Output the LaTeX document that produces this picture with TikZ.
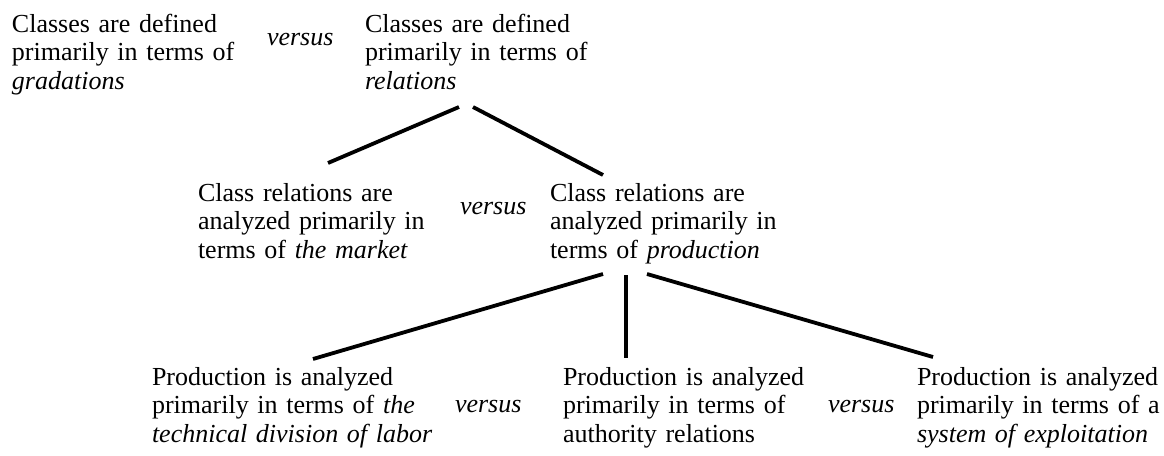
\documentclass[tikz,border=0pt]{standalone}
\usepackage{fontspec}
\setmainfont{Liberation Serif}
\begin{document}
\begin{tikzpicture}[x=1pt,y=-1pt,
  txt/.style={anchor=base west,inner sep=0pt,outer sep=0pt,align=left,text width=320pt,
    font=\fontsize{26}{28.5}\selectfont},
  vs/.style={anchor=base west,inner sep=0pt,outer sep=0pt,font=\fontsize{26}{28.5}\selectfont\itshape},
  link/.style={line width=3.8pt}]
\useasboundingbox (0,0) rectangle (1164,455);
\node[txt] (A) at (12,32) {Classes are defined\\primarily in terms of\\\textit{gradations}};
\node[vs] (v1) at (267,45) {versus};
\node[txt] (B) at (365,32) {Classes are defined\\primarily in terms of\\\textit{relations}};
\node[txt] (M1) at (198,201) {Class relations are\\analyzed primarily in\\terms of \textit{the market}};
\node[vs] (v2) at (460,214) {versus};
\node[txt] (M2) at (550,201) {Class relations are\\analyzed primarily in\\terms of \textit{production}};
\node[txt] (P1) at (152,385) {Production is analyzed\\primarily in terms of \textit{the}\\\textit{technical division of labor}};
\node[vs] (v3) at (455,412) {versus};
\node[txt] (P2) at (563,385) {Production is analyzed\\primarily in terms of\\authority relations};
\node[vs] (v4) at (828,412) {versus};
\node[txt] (P3) at (917,385) {Production is analyzed\\primarily in terms of a\\\textit{system of exploitation}};
\draw[link] ([shift={(94,75)}]B.base west) -- ([shift={(130,-38)}]M1.base west);
\draw[link] ([shift={(108,75)}]B.base west) -- ([shift={(53,-26)}]M2.base west);
\draw[link] ([shift={(53,73)}]M2.base west) -- ([shift={(161,-26)}]P1.base west);
\draw[link] ([shift={(76,74)}]M2.base west) -- ([shift={(63,-27)}]P2.base west);
\draw[link] ([shift={(97,73)}]M2.base west) -- ([shift={(16,-28)}]P3.base west);
\end{tikzpicture}
\end{document}
